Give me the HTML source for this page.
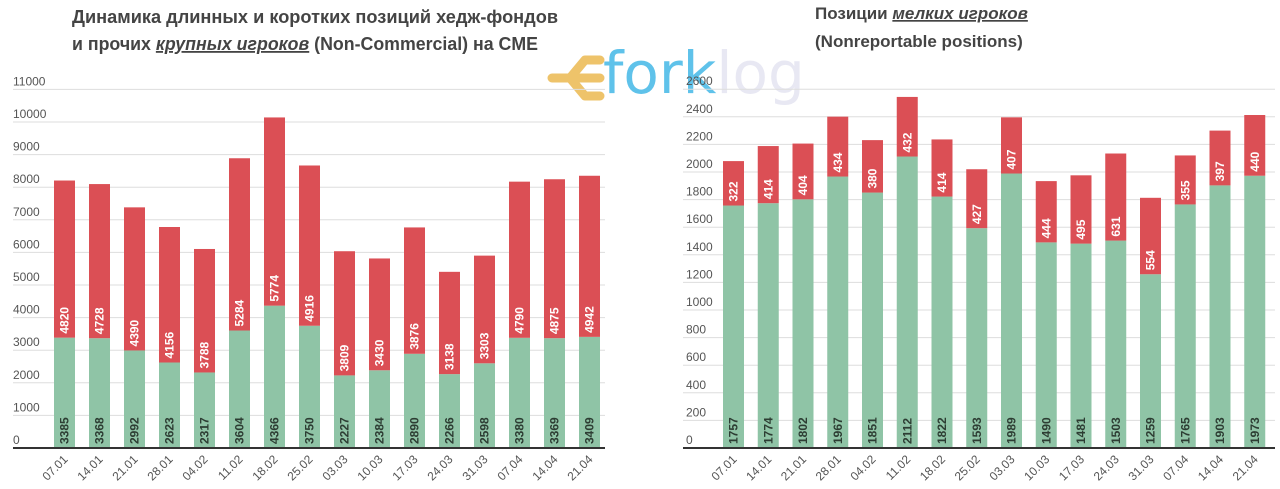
<!DOCTYPE html>
<html><head><meta charset="utf-8">
<style>
body{margin:0;background:#fff;width:1280px;height:489px;overflow:hidden;font-family:"Liberation Sans",sans-serif;}
svg{position:absolute;left:0;top:0}
</style></head>
<body>
<svg width="1280" height="489" viewBox="0 0 1280 489">
  <g font-size="18" font-weight="bold" fill="#444">
    <text x="72" y="23" textLength="486" lengthAdjust="spacingAndGlyphs">Динамика длинных и коротких позиций хедж-фондов</text>
    <text x="72" y="50" textLength="466" lengthAdjust="spacingAndGlyphs">и прочих <tspan font-style="italic" text-decoration="underline">крупных игроков</tspan> (Non-Commercial) на CME</text>
  </g>
  <g font-size="17" font-weight="bold" fill="#444">
    <text x="815" y="19">Позиции <tspan font-style="italic" text-decoration="underline">мелких игроков</tspan></text>
    <text x="815" y="47">(Nonreportable positions)</text>
  </g>
  <g>
    <path d="M600 60 L585 60 L570 78 L585 96 L600 96 M552 78 L600 78" fill="none" stroke="#eec36a" stroke-width="9" stroke-linecap="round" stroke-linejoin="round"/>
    <text x="603" y="93" font-size="58" fill="#5fc2ea" font-family="'DejaVu Sans',sans-serif">fork<tspan fill="#e8e8f3">log</tspan></text>
  </g>
  <g id="left"></g>
  <g id="right"></g>
</svg>
<script>
const dates = ["07.01","14.01","21.01","28.01","04.02","11.02","18.02","25.02","03.03","10.03","17.03","24.03","31.03","07.04","14.04","21.04"];
const leftLong = [3385,3368,2992,2623,2317,3604,4366,3750,2227,2384,2890,2266,2598,3380,3369,3409];
const leftShort = [4820,4728,4390,4156,3788,5284,5774,4916,3809,3430,3876,3138,3303,4790,4875,4942];
const leftTicks = [0,1000,2000,3000,4000,5000,6000,7000,8000,9000,10000,11000];
const rightLong = [1757,1774,1802,1967,1851,2112,1822,1593,1989,1490,1481,1503,1259,1765,1903,1973];
const rightShort = [322,414,404,434,380,432,414,427,407,444,495,631,554,355,397,440];
const rightTicks = [0,200,400,600,800,1000,1200,1400,1600,1800,2000,2200,2400,2600];

const NS="http://www.w3.org/2000/svg";
function mk(parent,tag,attrs,txt){const e=document.createElementNS(NS,tag);for(const k in attrs)e.setAttribute(k,attrs[k]);if(txt!==undefined)e.textContent=txt;parent.appendChild(e);return e;}

function drawChart(g,cfg,longV,shortV,ticks){
  const base=448;
  const y=v=>base - v*cfg.pxPer;
  const x=i=>cfg.x0 + i*cfg.step;
  ticks.forEach(t=>{
    const l=mk(g,'line',{x1:cfg.gx0,x2:cfg.gx1,y1:y(t),y2:y(t),stroke:'#ddd','stroke-width':1});
    
    
    const tx=mk(g,'text',{x:cfg.lx,y:y(t)-4,'font-size':12,fill:'#555'},t);
    
    
  });
  dates.forEach((d,i)=>{
    const bx=x(i), w=21;
    const gr=mk(g,'rect',{x:bx,y:y(longV[i]),width:w,height:base-y(longV[i]),fill:'#8fc4a6'});
    
    
    const rd=mk(g,'rect',{x:bx,y:y(longV[i]+shortV[i]),width:w,height:y(longV[i])-y(longV[i]+shortV[i]),fill:'#db4f55'});
    
    
    const cx=bx+w/2+4;
    const lt=mk(g,'text',{transform:`translate(${cx},${base-4}) rotate(-90)`,'font-size':12,'font-weight':'bold',fill:'#2d3d33'},longV[i]);
    
    
    const st=mk(g,'text',{transform:`translate(${cx},${y(longV[i])-4}) rotate(-90)`,'font-size':12,'font-weight':'bold',fill:'#fff'},shortV[i]);
    
    
    const dl=mk(g,'text',{transform:`translate(${bx+w/2+4},${base+12}) rotate(-45)`,'font-size':12,fill:'#555','text-anchor':'end'},d);
    
    
  });
  const ax=mk(g,'line',{x1:cfg.gx0,x2:cfg.gx1,y1:base,y2:base,stroke:'#333','stroke-width':2});
  
  
}
drawChart(document.getElementById('left'),{x0:54,step:35,pxPer:32.6/1000,gx0:13,gx1:605,lx:13},leftLong,leftShort,leftTicks);
drawChart(document.getElementById('right'),{x0:723,step:34.75,pxPer:27.6/200,gx0:683,gx1:1275,lx:686},rightLong,rightShort,rightTicks);
</script>
</body></html>
